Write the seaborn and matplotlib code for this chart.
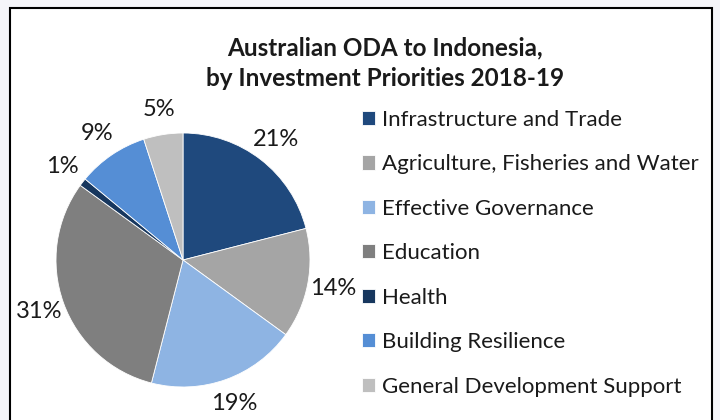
import matplotlib
matplotlib.use("Agg")
import matplotlib.pyplot as plt
import matplotlib.patches as mpatches
import seaborn as sns

sns.set_theme(style="white")
plt.rcParams['font.family'] = ['Lato', 'DejaVu Sans']

# data
categories = ["Infrastructure and Trade", "Agriculture, Fisheries and Water",
              "Effective Governance", "Education", "Health",
              "Building Resilience", "General Development Support"]
shares = [21, 14, 19, 31, 1, 9, 5]
colors = ["#1f497d", "#a5a5a5", "#8eb4e3", "#7f7f7f", "#17375e", "#558ed5", "#bfbfbf"]

W, H = 720, 420
fig = plt.figure(figsize=(W / 100, H / 100), dpi=100, facecolor="#f5f5f9")

# white chart area with black border (bottom edge runs off the image)
frame = mpatches.Rectangle((10 / W, -0.05), 702 / W, 1.05 - 8 / H,
                           transform=fig.transFigure, facecolor="white",
                           edgecolor="black", linewidth=1.5, zorder=-5)
fig.patches.append(frame)

# pie centred at (183, 260) px with radius 127 px
r = 127
ax = fig.add_axes([(183 - r) / W, (H - 260 - r) / H, 2 * r / W, 2 * r / H], zorder=2)
ax.patch.set_alpha(0)
wedges, texts, autotexts = ax.pie(
    shares, colors=colors, startangle=90, counterclock=False,
    autopct="%d%%", pctdistance=1.2, radius=1,
    wedgeprops=dict(linewidth=0.6, edgecolor="white"),
    textprops=dict(fontsize=17, color="#1a1a1a"))
ax.set_aspect("equal")
ax.set_xlim(-1, 1)
ax.set_ylim(-1, 1)
ax.axis("off")

fig.text(385 / W, 1 - 48 / H, "Australian ODA to Indonesia,", ha="center", va="center",
         fontsize=17.5, fontweight="bold", color="#1a1a1a")
fig.text(385 / W, 1 - 78 / H, "by Investment Priorities 2018-19", ha="center", va="center",
         fontsize=17.5, fontweight="bold", color="#1a1a1a")

leg = fig.legend(wedges, categories, loc="upper left",
                 bbox_to_anchor=(353 / W, 1 - 101 / H), frameon=False,
                 fontsize=16, handlelength=0.6, handleheight=0.6,
                 handletextpad=0.3, labelspacing=1.1, borderaxespad=0)
for t in leg.get_texts():
    t.set_color("#1a1a1a")

fig.savefig("out.png", dpi=100, facecolor=fig.get_facecolor())
